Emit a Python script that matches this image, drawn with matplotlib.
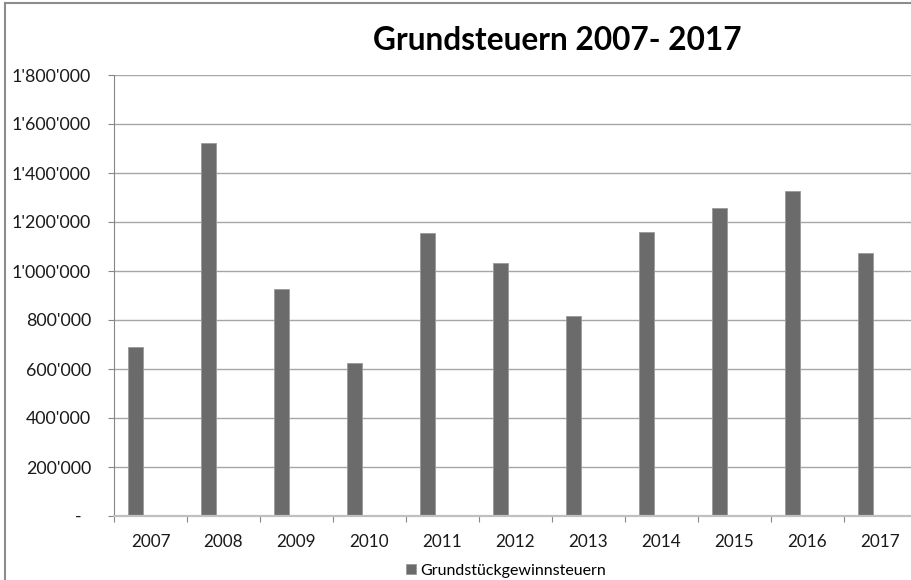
import numpy as np
import matplotlib.pyplot as plt
from matplotlib.lines import Line2D
from matplotlib.ticker import FixedLocator

plt.rcParams['font.family'] = ['Lato', 'DejaVu Sans']

years = ['2007', '2008', '2009', '2010', '2011', '2012',
         '2013', '2014', '2015', '2016', '2017']
steuern = [690000, 1522000, 927000, 624000, 1155000, 1033000,
           816000, 1159000, 1258000, 1328000, 1073000]
yticks = [0, 200000, 400000, 600000, 800000, 1000000,
          1200000, 1400000, 1600000, 1800000]
ylabels = ["-  ", "200'000", "400'000", "600'000", "800'000", "1'000'000",
           "1'200'000", "1'400'000", "1'600'000", "1'800'000"]

W, H = 911, 580
fig = plt.figure(figsize=(W/100, H/100), dpi=100)
ax = fig.add_axes([114/W, (H-516)/H, (W-114)/W, (516-75)/H])

x = np.arange(len(years))
ax.bar(x + 0.295, steuern, width=0.21, color='#6b6b6b',
       edgecolor='#9a9a9a', linewidth=0.6, zorder=3,
       label='Grundstückgewinnsteuern')

ax.set_xlim(0, 797/73)
ax.set_ylim(0, 1800000)

ax.set_yticks(yticks)
ax.set_yticklabels(ylabels)
ax.yaxis.grid(True, color='#a6a6a6', linewidth=1.0, zorder=0)

ax.xaxis.set_major_locator(FixedLocator(np.arange(len(years))))
ax.xaxis.set_minor_locator(FixedLocator(x + 0.5))
ax.set_xticklabels([], minor=False)
ax.set_xticklabels(years, minor=True)
ax.tick_params(axis='x', which='major', length=4.5, color='#868686', width=0.8)
ax.tick_params(axis='x', which='minor', length=0, pad=13, labelsize=12.3,
               labelcolor='#1a1a1a')
ax.tick_params(axis='y', length=4.5, color='#868686', width=0.8, pad=12,
               labelsize=12.8, labelcolor='#1a1a1a')

for s in ['top', 'right']:
    ax.spines[s].set_visible(False)
ax.spines['left'].set_color('#868686')
ax.spines['left'].set_linewidth(0.8)
ax.spines['bottom'].set_color('#c0c0c0')
ax.spines['bottom'].set_linewidth(1.6)
ax.spines['bottom'].set_zorder(4)

fig.text(557/W, 1 - 41/H, 'Grundsteuern 2007- 2017', ha='center', va='center',
         fontsize=22.8, fontweight='bold', color='#000000')

fig.legend(loc='center', bbox_to_anchor=(506/W, 1 - 571/H), frameon=False,
           fontsize=11.5, handlelength=0.6, handleheight=0.6, handletextpad=0.3,
           borderpad=0)

# chart border (left + top)
fig.add_artist(Line2D([5/W, 5/W], [0, 1 - 3/H], color='#8c8c8c', linewidth=1.5))
fig.add_artist(Line2D([5/W, 1], [1 - 3/H, 1 - 3/H], color='#8c8c8c', linewidth=1.5))

fig.savefig('out.png', dpi=100)
